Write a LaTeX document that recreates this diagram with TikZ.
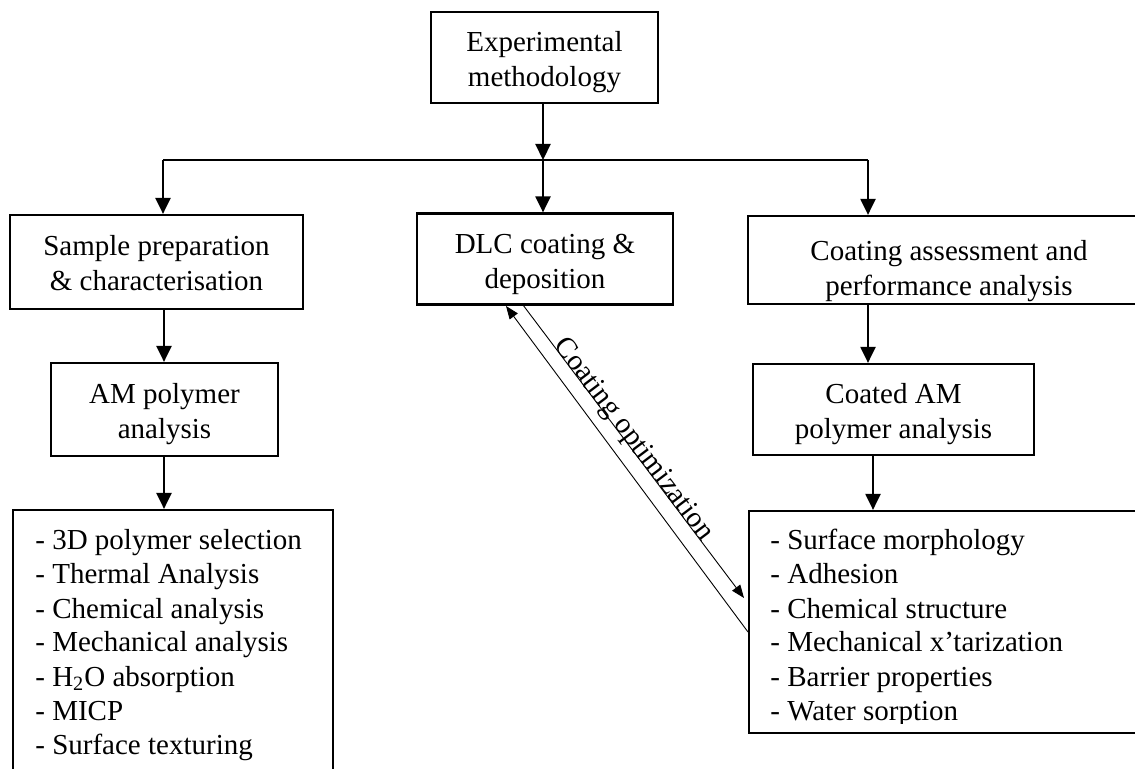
\documentclass[tikz,border=0pt]{standalone}
\usepackage{fontspec}
\setmainfont{Liberation Serif}
\usetikzlibrary{arrows.meta}
\begin{document}
\begin{tikzpicture}[x=0.5pt, y=-0.5pt,
  every node/.style={font=\fontsize{14.5}{17.5}\selectfont},
  box/.style={draw, line width=1.1pt, inner sep=0pt},
  btxt/.style={align=center, inner sep=0pt},
  arr/.style={line width=1.1pt, -{Triangle[length=8pt,width=7.5pt]}},
  plain/.style={line width=1.1pt},
  thinarr/.style={line width=0.45pt, -{Triangle[length=6.5pt,width=5pt]}},
  item/.style={anchor=base west, inner sep=0pt}]
\useasboundingbox (0,0) rectangle (1135,769);
\clip (0,0) rectangle (1135,769);

% boxes
\node[box, minimum width=113.5pt, minimum height=45.5pt] (top) at (544.5,57.5) {};
\node[box, minimum width=146.5pt, minimum height=47pt] (left) at (156.5,262) {};
\node[box, minimum width=128pt, minimum height=45.5pt] (mid) at (545,259) {};
\node[box, minimum width=201pt, minimum height=44pt] (right) at (949,260) {};
\node[box, minimum width=113.5pt, minimum height=46.5pt] (am) at (164.5,409.5) {};
\node[box, minimum width=140.5pt, minimum height=45.5pt] (coated) at (893.5,409.5) {};
\node[box, minimum width=160pt, minimum height=150pt] (llist) at (173,660) {};
\node[box, minimum width=200.5pt, minimum height=111pt] (rlist) at (949.5,622) {};

% box texts
\node[btxt] (topt) at ([yshift=-2.5pt]top.center) {Experimental\\methodology};
\node[btxt] (leftt) at ([yshift=-0.5pt]left.center) {Sample preparation\\\& characterisation};
\node[btxt] (midt) at ([yshift=-2.5pt]mid.center) {DLC coating \&\\deposition};
\node[btxt] (rightt) at ([yshift=-5.5pt]right.center) {Coating assessment and\\performance analysis};
\node[btxt] (amt) at ([yshift=-2.5pt]am.center) {AM polymer\\analysis};
\node[btxt] (coatedt) at ([yshift=-2.5pt]coated.center) {Coated AM\\polymer analysis};

% list items
\foreach \t [count=\i] in {3D polymer selection, Thermal Analysis, Chemical analysis, Mechanical analysis, H\textsubscript{2}O absorption, MICP, Surface texturing}
  \node[item] (li\i) at (35, {550+34*(\i-1)}) {- \t};
\begin{scope}
\clip (700,500) rectangle (1135,723);
\foreach \t [count=\i] in {Surface morphology, Adhesion, Chemical structure, Mechanical x’tarization, Barrier properties, Water sorption}
  \node[item] (ri\i) at (770, {550+34*(\i-1)}) {- \t};
\end{scope}

% connectors
\coordinate (hub) at (543,160);
\coordinate (hl) at (163,160);
\coordinate (hr) at (868,160);
\coordinate (colL) at (164,0);
\coordinate (colR) at (873,0);
\draw[arr] (hub |- top.south) -- (hub);
\draw[plain] (hl) -- (hr);
\draw[arr] (hl) -- (hl |- left.north);
\draw[arr] (hub) -- (hub |- mid.north);
\draw[arr] (hr) -- (hr |- right.north);
\draw[arr] (colL |- left.south) -- (colL |- am.north);
\draw[arr] (colL |- am.south) -- (colL |- llist.north);
\draw[arr] (hr |- right.south) -- (hr |- coated.north);
\draw[arr] (colR |- coated.south) -- (colR |- rlist.north);

% coating optimization loop
\coordinate (d1) at (748,632);
\coordinate (d2) at (506,306);
\coordinate (d3) at (523,305);
\coordinate (d4) at (744,598);
\draw[thinarr] (d1) -- (d2);
\draw[thinarr] (d3) -- node[pos=0.474, sloped, anchor=base, inner sep=0pt] {Coating optimization} (d4);
\end{tikzpicture}
\end{document}
